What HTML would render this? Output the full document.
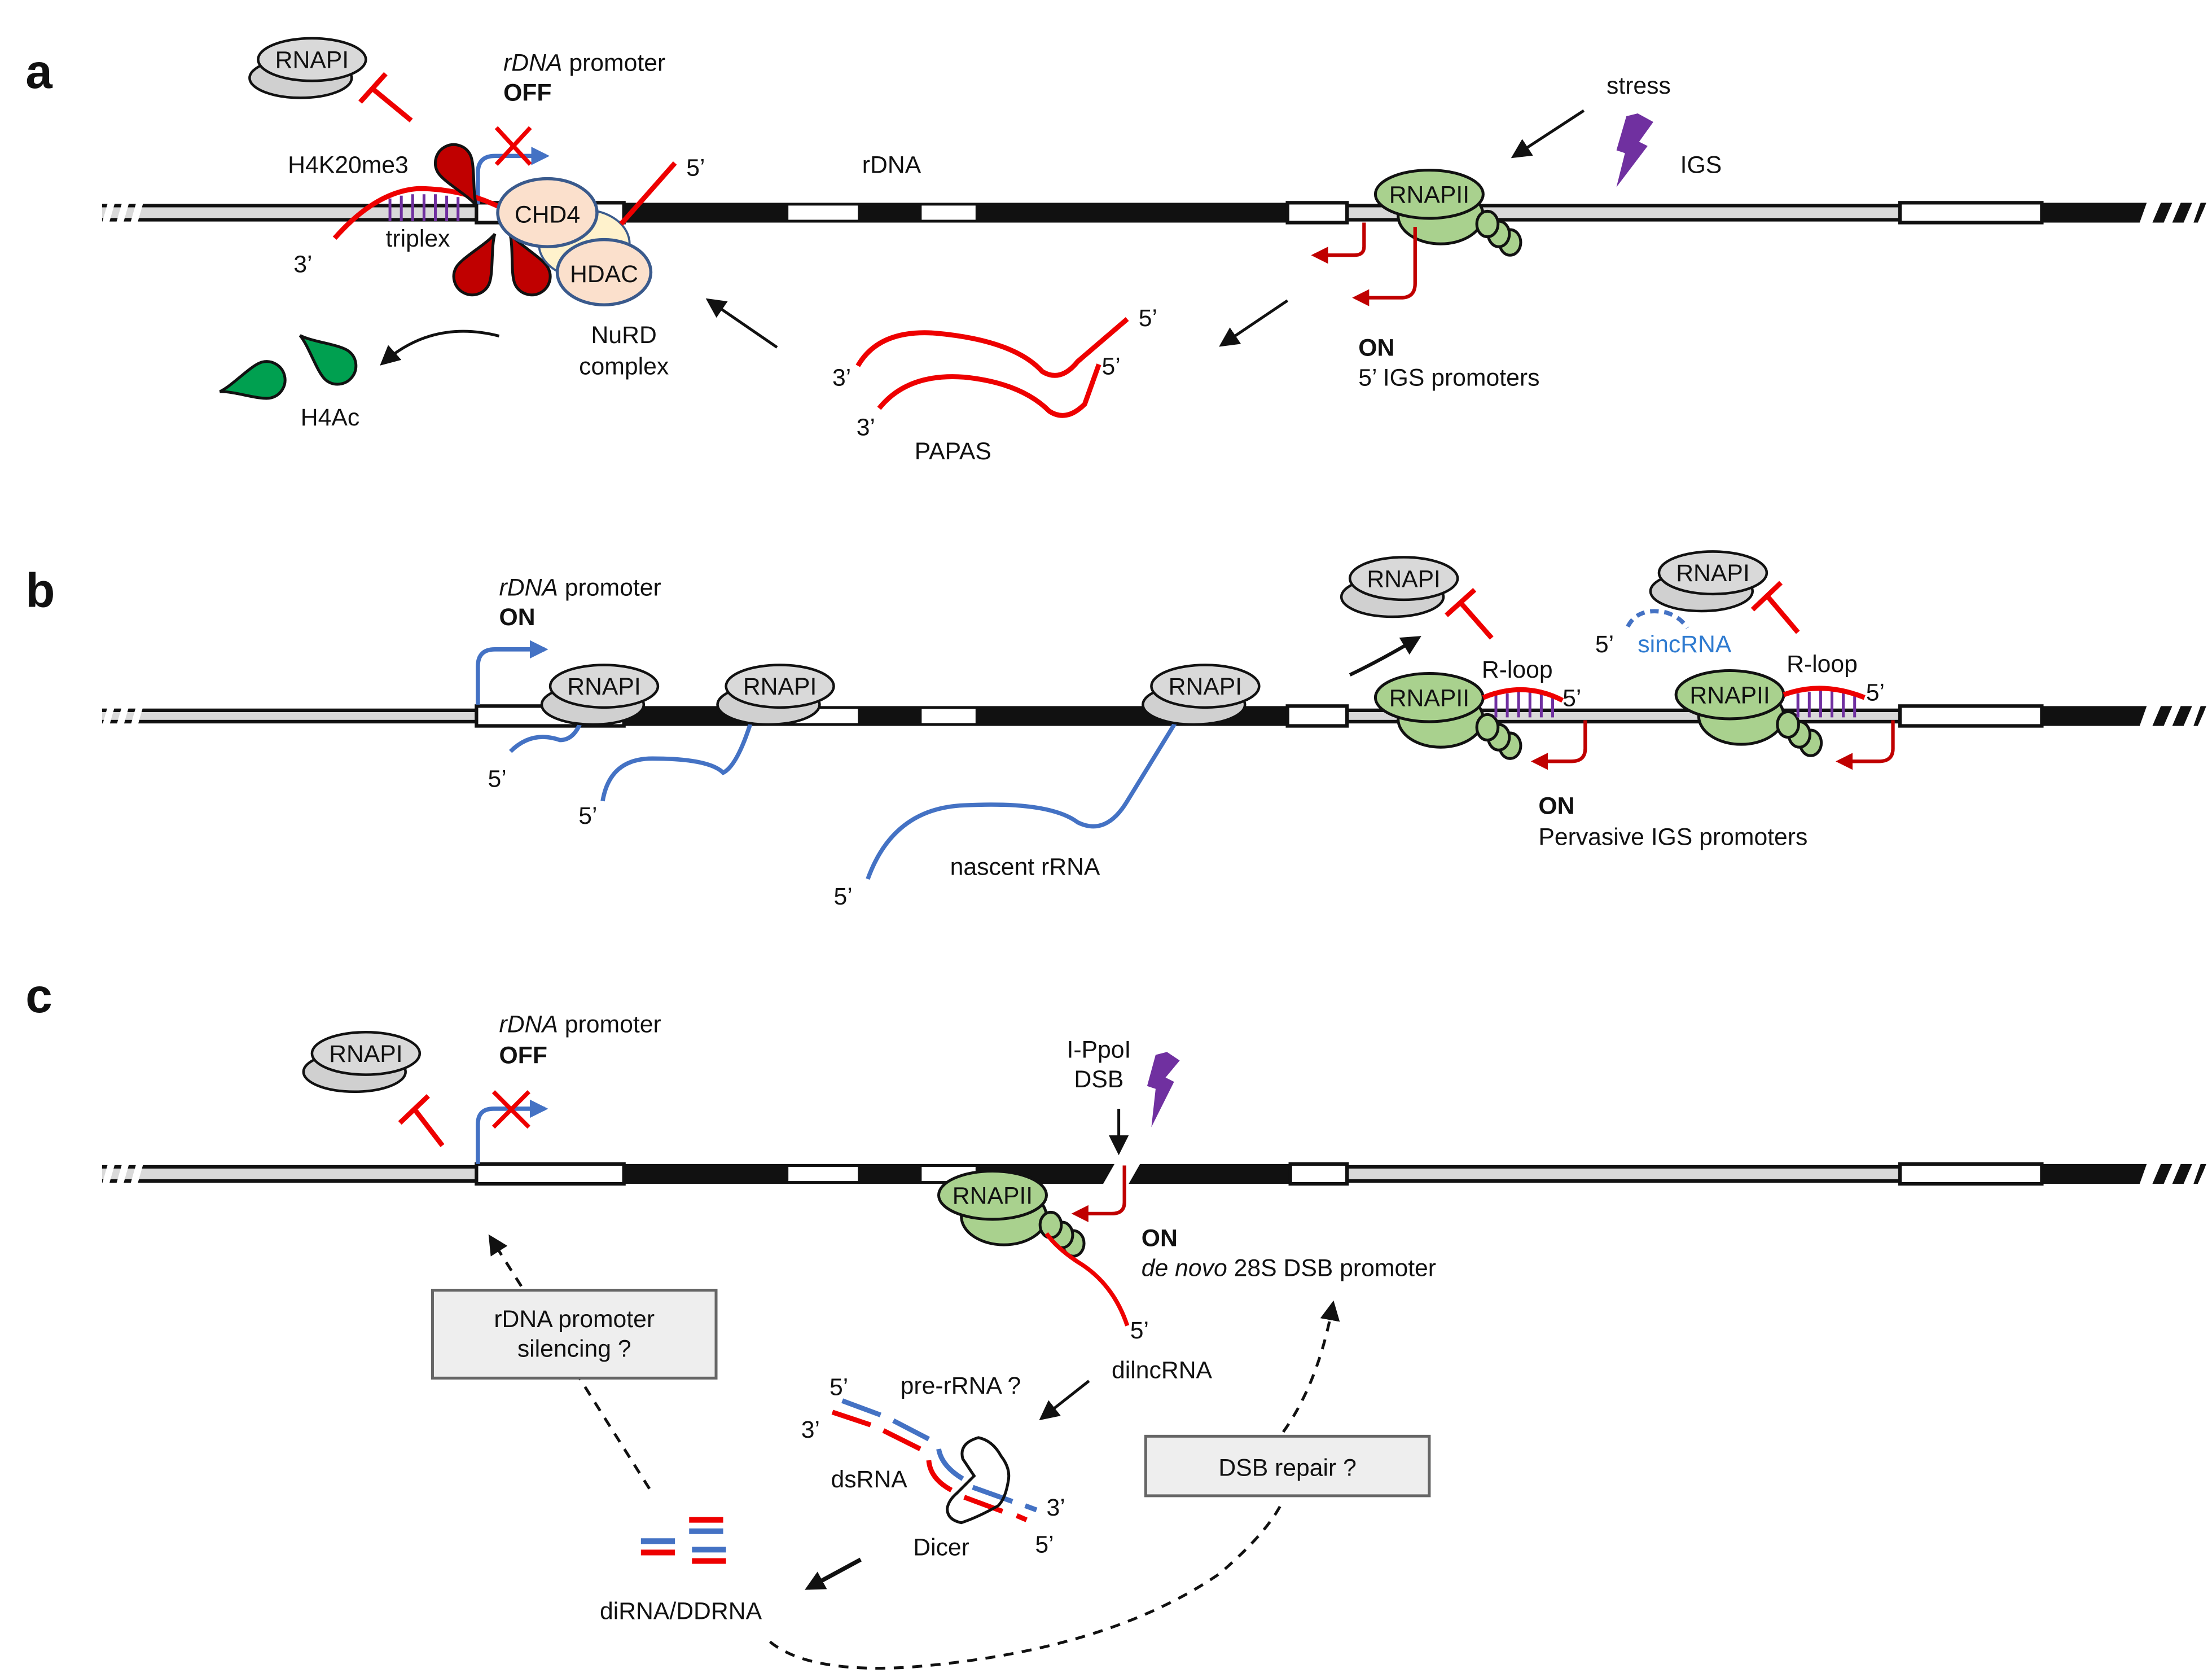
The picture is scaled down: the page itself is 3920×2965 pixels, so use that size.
<!DOCTYPE html>
<html><head><meta charset="utf-8"><style>
html,body{margin:0;padding:0;background:#fff}
svg{display:block}
text{font-family:"Liberation Sans",Arial,sans-serif;font-size:17px;fill:#111}
.b{font-weight:bold}
.L{font-size:34px}
</style></head><body>
<svg width="3920" height="2965" viewBox="0 0 1560 1180" xmlns="http://www.w3.org/2000/svg">
<defs>
<marker id="ab" viewBox="0 0 10 10" refX="8" refY="5" markerWidth="14" markerHeight="14" orient="auto" markerUnits="userSpaceOnUse"><path d="M0,0 L10,5 L0,10 z" fill="#111"/></marker>
<marker id="abl" viewBox="0 0 10 10" refX="8" refY="5" markerWidth="13" markerHeight="13" orient="auto" markerUnits="userSpaceOnUse"><path d="M0,0 L10,5 L0,10 z" fill="#4472c4"/></marker>
<marker id="ar" viewBox="0 0 10 10" refX="8" refY="5" markerWidth="12" markerHeight="12" orient="auto" markerUnits="userSpaceOnUse"><path d="M0,0 L10,5 L0,10 z" fill="#c00000"/></marker>
<g id="rnapi">
<ellipse cx="-8" cy="13" rx="36" ry="14" fill="#d0d0d0" stroke="#111" stroke-width="1.8"/>
<ellipse cx="0" cy="0" rx="38" ry="15" fill="#d9d9d9" stroke="#111" stroke-width="1.8"/>
<text x="0" y="6" text-anchor="middle">RNAPI</text>
</g>
<g id="rnapii">
<ellipse cx="8" cy="15" rx="30" ry="20" fill="#a9d18e" stroke="#111" stroke-width="2"/>
<ellipse cx="57" cy="34" rx="7.5" ry="9" fill="#a9d18e" stroke="#111" stroke-width="2"/>
<ellipse cx="49" cy="28" rx="7.5" ry="9" fill="#a9d18e" stroke="#111" stroke-width="2"/>
<ellipse cx="41" cy="21" rx="7.5" ry="9" fill="#a9d18e" stroke="#111" stroke-width="2"/>
<ellipse cx="0" cy="0" rx="38" ry="17" fill="#a9d18e" stroke="#111" stroke-width="2"/>
<text x="0" y="6" text-anchor="middle">RNAPII</text>
</g>
<g id="ends">
<path d="M1524,-7 L1532,-7 L1526,7 L1518,7 z" fill="#111"/>
<path d="M1538,-7 L1546,-7 L1540,7 L1532,7 z" fill="#111"/>
<path d="M1552,-7 L1556,-7 L1554,-2 L1550,7 L1547,7 z" fill="#111"/>
</g>
<g id="lstripes">
<path d="M76,-7 L81,-7 L77,7 L72,7 z" fill="#fff"/>
<path d="M86,-7 L91,-7 L87,7 L82,7 z" fill="#fff"/>
<path d="M96,-7 L101,-7 L97,7 L92,7 z" fill="#fff"/>
<rect x="60" y="-8" width="12" height="16" fill="#fff"/>
</g>
<path id="drop" d="M0,-34 C2,-24 13,-8 13,0 A13,13 0 1 1 -13,0 C-13,-8 -2,-24 0,-34 z"/>
</defs>

<!-- ========== PANEL A ========== -->
<text x="18" y="62" class="b L">a</text>
<g transform="translate(0,150)">
<rect x="70" y="-5" width="270" height="10" fill="#d9d9d9" stroke="#111" stroke-width="2.5"/>
<use href="#lstripes"/>
<rect x="950" y="-5" width="390" height="10" fill="#d9d9d9" stroke="#111" stroke-width="2.5"/>
<path d="M440,-7 H950 V7 H440 z" fill="#111"/>
<path d="M1440,-7 H1514 L1509,7 H1440 z" fill="#111"/>
<rect x="336" y="-7" width="104" height="14" fill="#fff" stroke="#111" stroke-width="2.5"/>
<rect x="556" y="-5" width="49" height="10" fill="#fff"/>
<rect x="650" y="-5" width="38" height="10" fill="#fff"/>
<rect x="908" y="-7" width="42" height="14" fill="#fff" stroke="#111" stroke-width="2.5"/>
<rect x="1340" y="-7" width="100" height="14" fill="#fff" stroke="#111" stroke-width="2.5"/>
<use href="#ends"/>
</g>
<use href="#rnapi" x="220" y="42"/>
<path d="M290,85 L262,62 M254,72 L272,52" stroke="#e00" stroke-width="3.5" fill="none"/>
<text x="355" y="50"><tspan font-style="italic">rDNA</tspan> promoter</text>
<text x="355" y="71" class="b">OFF</text>
<path d="M337,144 V122 Q337,110 349,110 H385" stroke="#4472c4" stroke-width="3" fill="none" marker-end="url(#abl)"/>
<path d="M350,90 L374,116 M374,90 L350,116" stroke="#e00" stroke-width="3"/>
<text x="203" y="122">H4K20me3</text>
<g stroke="#7030a0" stroke-width="2"><line x1="275" y1="140" x2="275" y2="156"/><line x1="283" y1="138" x2="283" y2="156"/><line x1="291" y1="137" x2="291" y2="156"/><line x1="299" y1="137" x2="299" y2="156"/><line x1="307" y1="137" x2="307" y2="156"/><line x1="315" y1="138" x2="315" y2="156"/><line x1="323" y1="139" x2="323" y2="156"/></g>
<path d="M236,168 Q265,135 295,133 Q330,133 360,150" stroke="#e00" stroke-width="3.5" fill="none"/>
<text x="207" y="192">3’</text>
<text x="272" y="174">triplex</text>
<g fill="#c00000" stroke="#111" stroke-width="2">
<use href="#drop" transform="translate(320,115) rotate(152)"/>
<use href="#drop" transform="translate(333,195) rotate(28)"/>
<use href="#drop" transform="translate(375,195) rotate(-27)"/>
</g>
<ellipse cx="412" cy="172" rx="32" ry="24" fill="#fff2cc" stroke="#3a5a8c" stroke-width="1.5"/>
<ellipse cx="386" cy="150" rx="35" ry="24" fill="#fbe0cc" stroke="#3a5a8c" stroke-width="2.2"/>
<text x="386" y="157" text-anchor="middle">CHD4</text>
<ellipse cx="426" cy="192" rx="33" ry="23" fill="#fbe0cc" stroke="#3a5a8c" stroke-width="2.2"/>
<text x="426" y="199" text-anchor="middle">HDAC</text>
<path d="M438,158 L476,115" stroke="#e00" stroke-width="3.5"/>
<text x="484" y="124">5’</text>
<text x="608" y="122">rDNA</text>
<text x="440" y="242" text-anchor="middle">NuRD</text>
<text x="440" y="264" text-anchor="middle">complex</text>
<line x1="548" y1="245" x2="500" y2="212" stroke="#111" stroke-width="2" marker-end="url(#ab)"/>
<path d="M352,237 Q305,225 270,256" stroke="#111" stroke-width="2" fill="none" marker-end="url(#ab)"/>
<g fill="#00a050" stroke="#111" stroke-width="2">
<use href="#drop" transform="translate(188,268) rotate(-104)"/>
<use href="#drop" transform="translate(238,258) rotate(-51)"/>
</g>
<text x="212" y="300">H4Ac</text>
<use href="#rnapii" x="1008" y="137"/>
<text x="1133" y="66">stress</text>
<line x1="1117" y1="78" x2="1068" y2="110" stroke="#111" stroke-width="2" marker-end="url(#ab)"/>
<path d="M1155,80 L1166,86 L1156,100 L1162,103 L1140,132 L1146,108 L1140,106 L1147,82 z" fill="#7030a0"/>
<text x="1185" y="122">IGS</text>
<path d="M998,160 V200 Q998,210 988,210 H956" stroke="#c00000" stroke-width="2.5" fill="none" marker-end="url(#ar)"/>
<path d="M962,157 V174 Q962,180 955,180 H927" stroke="#c00000" stroke-width="2.5" fill="none" marker-end="url(#ar)"/>
<line x1="908" y1="212" x2="862" y2="243" stroke="#111" stroke-width="2" marker-end="url(#ab)"/>
<text x="958" y="251" class="b">ON</text>
<text x="958" y="272">5’ IGS promoters</text>
<path d="M605,258 Q620,232 660,235 Q715,240 735,262 Q748,270 760,255 L795,225" stroke="#e00" stroke-width="3.5" fill="none"/>
<path d="M620,288 Q640,263 680,266 Q720,270 740,290 Q752,298 765,285 L775,257" stroke="#e00" stroke-width="3.5" fill="none"/>
<text x="587" y="272">3’</text><text x="803" y="230">5’</text>
<text x="604" y="307">3’</text><text x="777" y="264">5’</text>
<text x="645" y="324">PAPAS</text>

<!-- ========== PANEL B ========== -->
<text x="18" y="428" class="b L">b</text>
<g transform="translate(0,505)">
<rect x="70" y="-4" width="270" height="8" fill="#d9d9d9" stroke="#111" stroke-width="2.5"/>
<use href="#lstripes"/>
<rect x="950" y="-4" width="390" height="8" fill="#d9d9d9" stroke="#111" stroke-width="2.5"/>
<path d="M440,-7 H950 V7 H440 z" fill="#111"/>
<path d="M1440,-7 H1514 L1509,7 H1440 z" fill="#111"/>
<rect x="336" y="-7" width="104" height="14" fill="#fff" stroke="#111" stroke-width="2.5"/>
<rect x="556" y="-5" width="49" height="10" fill="#fff"/>
<rect x="650" y="-5" width="38" height="10" fill="#fff"/>
<rect x="908" y="-7" width="42" height="14" fill="#fff" stroke="#111" stroke-width="2.5"/>
<rect x="1340" y="-7" width="100" height="14" fill="#fff" stroke="#111" stroke-width="2.5"/>
<use href="#ends"/>
</g>
<text x="352" y="420"><tspan font-style="italic">rDNA</tspan> promoter</text>
<text x="352" y="441" class="b">ON</text>
<path d="M337,497 V470 Q337,458 349,458 H384" stroke="#4472c4" stroke-width="3" fill="none" marker-end="url(#abl)"/>
<path d="M360,530 Q375,515 395,522 Q405,522 410,508" stroke="#4472c4" stroke-width="3" fill="none"/>
<path d="M425,565 Q430,535 460,535 Q500,535 510,545 Q520,540 530,508" stroke="#4472c4" stroke-width="3" fill="none"/>
<path d="M612,620 Q630,570 680,568 Q740,565 760,580 Q780,590 795,565 L830,508" stroke="#4472c4" stroke-width="3" fill="none"/>
<use href="#rnapi" x="426" y="484"/>
<use href="#rnapi" x="550" y="484"/>
<use href="#rnapi" x="850" y="484"/>
<text x="344" y="555">5’</text><text x="408" y="581">5’</text><text x="588" y="638">5’</text>
<text x="670" y="617">nascent  rRNA</text>
<use href="#rnapi" x="990" y="408"/>
<path d="M952,476 Q975,465 1000,450" stroke="#111" stroke-width="2.5" fill="none" marker-end="url(#ab)"/>
<path d="M1052,450 L1030,425 M1020,434 L1040,416" stroke="#e00" stroke-width="3.5" fill="none"/>
<use href="#rnapii" x="1008" y="492"/>
<g stroke="#7030a0" stroke-width="2"><line x1="1055" y1="490" x2="1055" y2="506"/><line x1="1063" y1="489" x2="1063" y2="506"/><line x1="1071" y1="488" x2="1071" y2="506"/><line x1="1079" y1="488" x2="1079" y2="506"/><line x1="1087" y1="489" x2="1087" y2="506"/><line x1="1095" y1="490" x2="1095" y2="506"/></g>
<path d="M1046,492 Q1075,480 1102,494" stroke="#e00" stroke-width="3.5" fill="none"/>
<text x="1045" y="478">R-loop</text><text x="1102" y="498">5’</text>
<path d="M1118,508 V528 Q1118,537 1108,537 H1082" stroke="#c00000" stroke-width="2.5" fill="none" marker-end="url(#ar)"/>
<text x="1085" y="574" class="b">ON</text>
<text x="1085" y="596">Pervasive  IGS promoters</text>
<use href="#rnapii" x="1220" y="490"/>
<g stroke="#7030a0" stroke-width="2"><line x1="1268" y1="489" x2="1268" y2="506"/><line x1="1276" y1="488" x2="1276" y2="506"/><line x1="1284" y1="487" x2="1284" y2="506"/><line x1="1292" y1="487" x2="1292" y2="506"/><line x1="1300" y1="488" x2="1300" y2="506"/><line x1="1308" y1="489" x2="1308" y2="506"/></g>
<path d="M1258,490 Q1285,480 1315,492" stroke="#e00" stroke-width="3.5" fill="none"/>
<text x="1260" y="474">R-loop</text><text x="1316" y="494">5’</text>
<path d="M1335,508 V528 Q1335,537 1325,537 H1297" stroke="#c00000" stroke-width="2.5" fill="none" marker-end="url(#ar)"/>
<use href="#rnapi" x="1208" y="404"/>
<path d="M1148,442 Q1155,428 1175,432 Q1185,435 1190,443" stroke="#4472c4" stroke-width="3" fill="none" stroke-dasharray="6,4"/>
<path d="M1268,446 L1246,420 M1236,430 L1256,411" stroke="#e00" stroke-width="3.5" fill="none"/>
<text x="1125" y="460">5’</text>
<text x="1155" y="460" style="fill:#2f7bd0">sincRNA</text>

<!-- ========== PANEL C ========== -->
<text x="18" y="714" class="b L">c</text>
<g transform="translate(0,828)">
<rect x="70" y="-5" width="270" height="10" fill="#d9d9d9" stroke="#111" stroke-width="2.5"/>
<use href="#lstripes"/>
<rect x="950" y="-5" width="390" height="10" fill="#d9d9d9" stroke="#111" stroke-width="2.5"/>
<path d="M440,-7 H786 L778,7 H440 z" fill="#111"/>
<path d="M804,-7 H950 V7 H796 z" fill="#111"/>
<path d="M1440,-7 H1514 L1509,7 H1440 z" fill="#111"/>
<rect x="336" y="-7" width="104" height="14" fill="#fff" stroke="#111" stroke-width="2.5"/>
<rect x="556" y="-5" width="49" height="10" fill="#fff"/>
<rect x="650" y="-5" width="38" height="10" fill="#fff"/>
<rect x="910" y="-7" width="40" height="14" fill="#fff" stroke="#111" stroke-width="2.5"/>
<rect x="1340" y="-7" width="100" height="14" fill="#fff" stroke="#111" stroke-width="2.5"/>
<use href="#ends"/>
</g>
<use href="#rnapi" x="258" y="743"/>
<path d="M312,808 L292,782 M282,792 L302,773" stroke="#e00" stroke-width="3.5" fill="none"/>
<text x="352" y="728"><tspan font-style="italic">rDNA</tspan> promoter</text>
<text x="352" y="750" class="b">OFF</text>
<path d="M337,821 V793 Q337,782 348,782 H384" stroke="#4472c4" stroke-width="3" fill="none" marker-end="url(#abl)"/>
<path d="M348,770 L373,795 M373,770 L348,795" stroke="#e00" stroke-width="3"/>
<text x="775" y="746" text-anchor="middle">I-PpoI</text>
<text x="775" y="767" text-anchor="middle">DSB</text>
<line x1="789" y1="782" x2="789" y2="812" stroke="#111" stroke-width="2" marker-end="url(#ab)"/>
<path d="M823,742 L832,748 L822,760 L828,763 L812,795 L815,768 L809,766 L815,744 z" fill="#7030a0"/>
<use href="#rnapii" x="700" y="843"/>
<path d="M793,822 V848 Q793,856 784,856 H758" stroke="#c00000" stroke-width="2.5" fill="none" marker-end="url(#ar)"/>
<path d="M738,870 Q745,880 760,890 Q785,905 795,935" stroke="#e00" stroke-width="3" fill="none"/>
<text x="797" y="944">5’</text>
<text x="784" y="972">dilncRNA</text>
<text x="805" y="879" class="b">ON</text>
<text x="805" y="900"><tspan font-style="italic">de novo</tspan>  28S  DSB promoter</text>
<line x1="458" y1="1050" x2="346" y2="873" stroke="#111" stroke-width="2" stroke-dasharray="7,6" marker-end="url(#ab)"/>
<rect x="305" y="910" width="200" height="62" fill="#eee" stroke="#666" stroke-width="2"/>
<text x="405" y="936" text-anchor="middle">rDNA promoter</text>
<text x="405" y="957" text-anchor="middle">silencing ?</text>
<path d="M905,1010 Q930,975 940,920" stroke="#111" stroke-width="2" stroke-dasharray="7,6" fill="none" marker-end="url(#ab)"/>
<rect x="808" y="1013" width="200" height="42" fill="#eee" stroke="#666" stroke-width="2"/>
<text x="908" y="1041" text-anchor="middle">DSB repair ?</text>
<line x1="768" y1="974" x2="735" y2="1000" stroke="#111" stroke-width="2" marker-end="url(#ab)"/>
<text x="635" y="983">pre-rRNA ?</text>
<g stroke-width="3.5" fill="none">
<line x1="594" y1="988" x2="621" y2="998" stroke="#4472c4"/>
<line x1="630" y1="1002" x2="655" y2="1015" stroke="#4472c4"/>
<path d="M662,1022 Q664,1034 679,1043" stroke="#4472c4"/>
<line x1="686" y1="1049" x2="714" y2="1059" stroke="#4472c4"/>
<line x1="723" y1="1062" x2="731" y2="1065" stroke="#4472c4"/>
<line x1="587" y1="996" x2="614" y2="1005" stroke="#e00"/>
<line x1="623" y1="1009" x2="649" y2="1022" stroke="#e00"/>
<path d="M655,1030 Q656,1043 671,1051" stroke="#e00"/>
<line x1="680" y1="1056" x2="707" y2="1066" stroke="#e00"/>
<line x1="717" y1="1069" x2="724" y2="1072" stroke="#e00"/>
</g>
<path d="M679,1029 Q676,1018 690,1014 Q700,1016 706,1027 Q713,1036 711,1045 Q709,1057 704,1062 Q690,1070 678,1074 Q668,1072 668,1064 Q669,1058 675,1053 L687,1041 Z" fill="none" stroke="#111" stroke-width="2"/>
<text x="585" y="984">5’</text><text x="565" y="1014">3’</text>
<text x="586" y="1049">dsRNA</text>
<text x="738" y="1069">3’</text><text x="730" y="1095">5’</text>
<text x="644" y="1097">Dicer</text>
<g stroke-width="4">
<line x1="452" y1="1087" x2="476" y2="1087" stroke="#4472c4"/><line x1="452" y1="1095" x2="476" y2="1095" stroke="#e00"/>
<line x1="486" y1="1072" x2="510" y2="1072" stroke="#e00"/><line x1="486" y1="1080" x2="510" y2="1080" stroke="#4472c4"/>
<line x1="488" y1="1093" x2="512" y2="1093" stroke="#4472c4"/><line x1="488" y1="1101" x2="512" y2="1101" stroke="#e00"/>
</g>
<line x1="607" y1="1100" x2="570" y2="1120" stroke="#111" stroke-width="3" marker-end="url(#ab)"/>
<text x="423" y="1142">diRNA/DDRNA</text>
<path d="M543,1158 Q570,1180 640,1176 Q780,1165 860,1110 Q895,1080 905,1058" stroke="#111" stroke-width="2" stroke-dasharray="7,6" fill="none"/>
</svg>
</body></html>
